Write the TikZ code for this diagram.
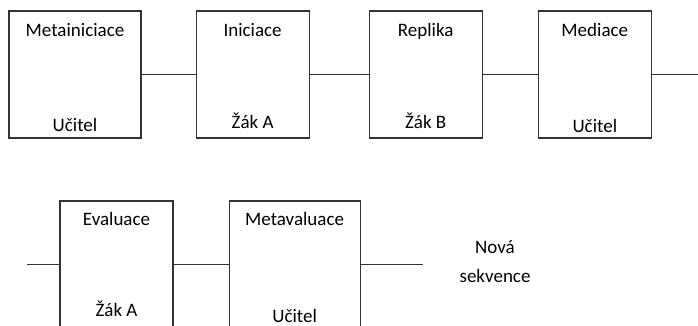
\documentclass[tikz,border=0pt]{standalone}
\usepackage{fontspec}
\setmainfont{Carlito}
\usetikzlibrary{positioning}
\tikzset{
    krok/.style={draw=black!80,line width=1.1pt,minimum width=113pt,minimum height=127pt,inner sep=0pt},
    spoj/.style={line width=1.1pt,draw=black!80},
    popis/.style={anchor=base,font=\fontsize{19}{23}\selectfont},
}
\begin{document}
\begin{tikzpicture}[x=1pt,y=1pt]
  \useasboundingbox (0,0) rectangle (698,325);
  \clip (0,0) rectangle (698,325);

  % kroky, horni rada
  \node[krok,minimum width=132pt] (K1) at (75,250.5) {};
  \node[krok,right=54pt of K1] (K2) {};
  \node[krok,right=59pt of K2] (K3) {};
  \node[krok,right=55pt of K3] (K4) {};

  % kroky, dolni rada
  \node[krok] (K5) at (116.5,60.5) {};
  \node[krok,minimum width=131pt,right=55pt of K5] (K6) {};

  % volne konce
  \coordinate (C1) at (698,250.5);
  \coordinate (C0) at (27,60.5);
  \coordinate (C2) at (423,60.5);

  % spoje
  \draw[spoj] (K1) -- (K2);
  \draw[spoj] (K2) -- (K3);
  \draw[spoj] (K3) -- (K4);
  \draw[spoj] (K4) -- (C1);
  \draw[spoj] (C0) -- (K5);
  \draw[spoj] (K5) -- (K6);
  \draw[spoj] (K6) -- (C2);

  % nazvy kroku
  \node[popis] (T1) at ([yshift=-26pt]K1.north) {Metainiciace};
  \node[popis] (T2) at ([yshift=-26pt]K2.north) {Iniciace};
  \node[popis] (T3) at ([yshift=-26pt]K3.north) {Replika};
  \node[popis] (T4) at ([yshift=-26pt]K4.north) {Mediace};
  \node[popis] (T5) at ([yshift=-25pt]K5.north) {Evaluace};
  \node[popis] (T6) at ([yshift=-25pt]K6.north) {Metavaluace};

  % kdo mluvi
  \node[popis] (U1) at ([yshift=7pt]K1.south) {Učitel};
  \node[popis] (U2) at ([yshift=10pt]K2.south) {Žák A};
  \node[popis] (U3) at ([yshift=10pt]K3.south) {Žák B};
  \node[popis] (U4) at ([yshift=6pt]K4.south) {Učitel};
  \node[popis] (U5) at ([yshift=12pt]K5.south) {Žák A};
  \node[popis] (U6) at ([yshift=6pt]K6.south) {Učitel};

  % dalsi sekvence
  \node[popis] (N1) at (495,72) {Nová};
  \node[popis] (N2) at (495,43) {sekvence};
\end{tikzpicture}
\end{document}
